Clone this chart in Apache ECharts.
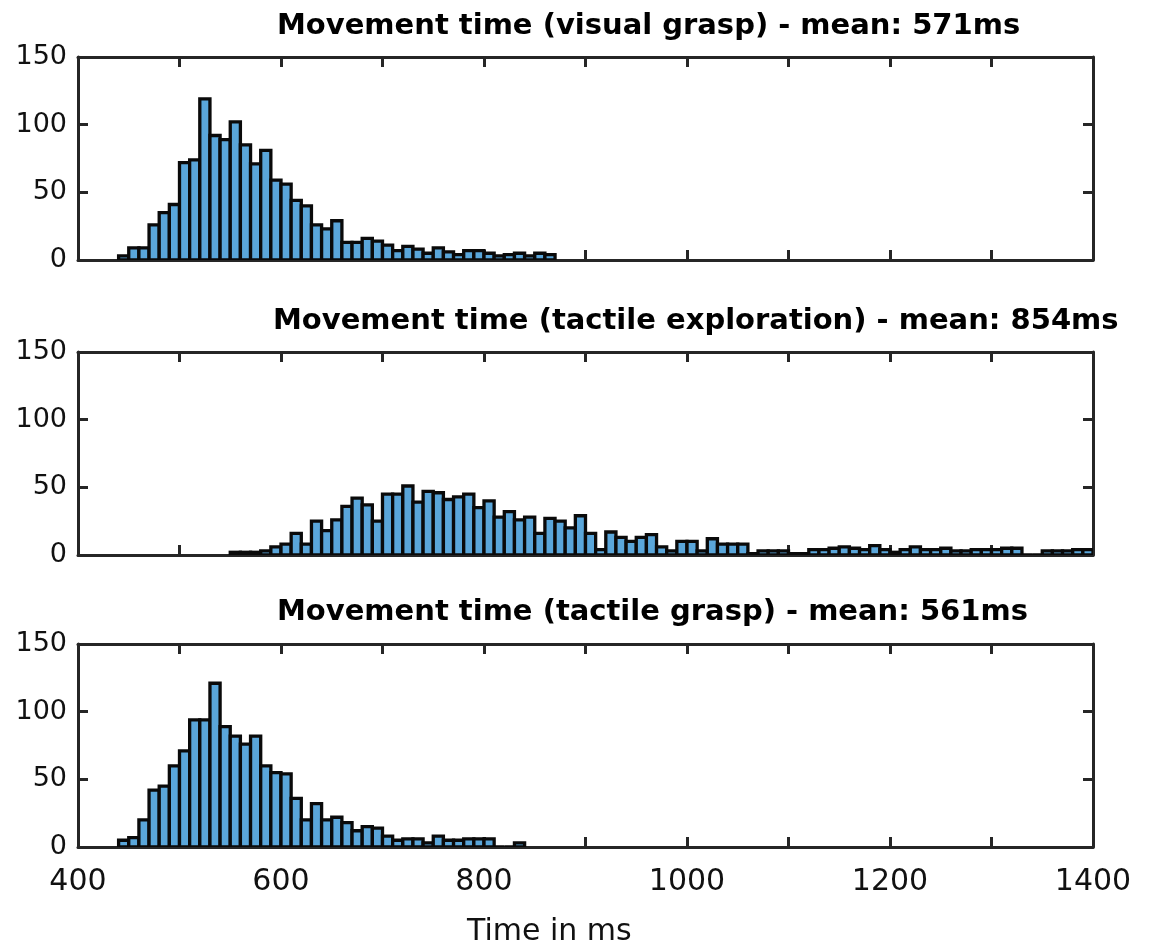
<!DOCTYPE html>
<html>
<head>
<meta charset="utf-8">
<script src="https://cdn.jsdelivr.net/npm/echarts@6/dist/echarts.min.js"></script>
<style>
  html, body { margin: 0; padding: 0; background: #ffffff; }
  #chart { width: 1149px; height: 948px; }
</style>
</head>
<body>
<div id="chart"></div>
<script>
// ---------------- DATA ----------------
const titles = [
  'Movement time (visual grasp) - mean: 571ms',
  'Movement time (tactile exploration) - mean: 854ms',
  'Movement time (tactile grasp) - mean: 561ms'
];
const xAxisTitle = 'Time in ms';
const xTickValues = [400, 500, 600, 700, 800, 900, 1000, 1100, 1200, 1300, 1400];
const xTickLabels = ['400', '', '600', '', '800', '', '1000', '', '1200', '', '1400'];
const yTickLabels = ['0', '50', '100', '150'];
const binWidth = 10;

// Panel 1: visual grasp
const visualBins = [440, 450, 460, 470, 480, 490, 500, 510, 520, 530, 540, 550, 560, 570, 580, 590,
  600, 610, 620, 630, 640, 650, 660, 670, 680, 690, 700, 710, 720, 730, 740, 750, 760, 770, 780, 790,
  800, 810, 820, 830, 840, 850, 860];
const visualCounts = [3, 9, 9, 26, 35, 41, 72, 74, 119, 92, 89, 102, 85, 71, 81, 59,
  56, 44, 40, 26, 23, 29, 13, 13, 16, 14, 11, 7, 10, 8, 5, 9, 6, 4, 7, 7,
  5, 3, 4, 5, 3, 5, 4];

// Panel 2: tactile exploration
const exploreBins = [550, 560, 570, 580, 590, 600, 610, 620, 630, 640, 650, 660, 670, 680, 690,
  700, 710, 720, 730, 740, 750, 760, 770, 780, 790, 800, 810, 820, 830, 840, 850, 860, 870, 880, 890,
  900, 910, 920, 930, 940, 950, 960, 970, 980, 990, 1000, 1010, 1020, 1030, 1040, 1050, 1060, 1070,
  1080, 1090, 1100, 1110, 1120, 1130, 1140, 1150, 1160, 1170, 1180, 1190, 1200, 1210, 1220, 1230,
  1240, 1250, 1260, 1270, 1280, 1290, 1300, 1310, 1320, 1330, 1340, 1350, 1360, 1370, 1380, 1390];
const exploreCounts = [2, 2, 2, 3, 6, 8, 16, 8, 25, 18, 26, 36, 42, 37, 25,
  45, 45, 51, 39, 47, 46, 41, 43, 45, 35, 40, 28, 32, 26, 28, 16, 27, 25, 20, 29,
  16, 4, 17, 13, 10, 13, 15, 6, 3, 10, 10, 3, 12, 8, 8, 8, 1, 3,
  3, 3, 1, 1, 4, 4, 5, 6, 5, 4, 7, 4, 2, 4, 6, 4,
  4, 5, 3, 3, 4, 4, 4, 5, 5, 0, 0, 3, 3, 3, 4, 4];

// Panel 3: tactile grasp
const tactileBins = [440, 450, 460, 470, 480, 490, 500, 510, 520, 530, 540, 550, 560, 570, 580, 590,
  600, 610, 620, 630, 640, 650, 660, 670, 680, 690, 700, 710, 720, 730, 740, 750, 760, 770, 780, 790,
  800, 810, 820, 830];
const tactileCounts = [5, 7, 20, 42, 45, 60, 71, 94, 94, 121, 89, 82, 76, 82, 60, 55,
  54, 36, 20, 32, 20, 22, 18, 12, 15, 14, 8, 5, 6, 6, 3, 8, 5, 5, 6, 6,
  6, 0, 0, 3];

// ---------------- CHART ----------------
const panels = [
  { bins: visualBins, counts: visualCounts },
  { bins: exploreBins, counts: exploreCounts },
  { bins: tactileBins, counts: tactileCounts }
];

const gridTops = [57, 352, 644];
const gridHeight = 203;
const gridLeft = 78;
const gridRight = 56;
const titleLefts = [272, 268, 272];
const titleTops = [7, 302, 593];

const axisColor = '#262626';
const labelFont = 'DejaVu Sans';
const barFill = '#5AA6DA';

const grids = [], xAxes = [], yAxes = [], series = [], titleOpts = [];

panels.forEach((p, i) => {
  grids.push({ left: gridLeft, right: gridRight, top: gridTops[i], height: gridHeight, containLabel: false });
  titleOpts.push({
    text: titles[i], left: titleLefts[i], top: titleTops[i],
    textStyle: { fontFamily: labelFont, fontWeight: 'bold', fontSize: 29, color: '#000' }
  });
  const isLast = i === panels.length - 1;
  // bottom x axis
  xAxes.push({
    type: 'value', gridIndex: i, min: 400, max: 1400, interval: 100, position: 'bottom',
    axisLine: { show: true, onZero: false, lineStyle: { color: axisColor, width: 3 } },
    axisTick: { show: true, inside: true, length: 10, lineStyle: { color: axisColor, width: 3 } },
    axisLabel: {
      show: isLast, margin: 20, fontFamily: labelFont, fontSize: 30, color: '#111',
      formatter: v => { const k = xTickValues.indexOf(v); return k >= 0 ? xTickLabels[k] : ''; }
    },
    splitLine: { show: false }
  });
  // top x axis (box)
  xAxes.push({
    type: 'value', gridIndex: i, min: 400, max: 1400, interval: 100, position: 'top',
    axisLine: { show: true, onZero: false, lineStyle: { color: axisColor, width: 3 } },
    axisTick: { show: true, inside: true, length: 10, lineStyle: { color: axisColor, width: 3 } },
    axisLabel: { show: false }, splitLine: { show: false }
  });
  // left y axis
  yAxes.push({
    type: 'value', gridIndex: i, min: 0, max: 150, interval: 50, position: 'left',
    axisLine: { show: true, onZero: false, lineStyle: { color: axisColor, width: 3 } },
    axisTick: { show: true, inside: true, length: 10, lineStyle: { color: axisColor, width: 3 } },
    axisLabel: {
      show: true, margin: 11, fontFamily: labelFont, fontSize: 27, color: '#111',
      formatter: v => yTickLabels[Math.round(v / 50)]
    },
    splitLine: { show: false }
  });
  // right y axis (box)
  yAxes.push({
    type: 'value', gridIndex: i, min: 0, max: 150, interval: 50, position: 'right',
    axisLine: { show: true, onZero: false, lineStyle: { color: axisColor, width: 3 } },
    axisTick: { show: true, inside: true, length: 10, lineStyle: { color: axisColor, width: 3 } },
    axisLabel: { show: false }, splitLine: { show: false }
  });

  const data = p.bins.map((b, k) => [b, b + binWidth, p.counts[k]]);
  series.push({
    type: 'custom', xAxisIndex: i * 2, yAxisIndex: i * 2, clip: true,
    encode: { x: [0, 1], y: 2 },
    data: data,
    renderItem: (params, api) => {
      const x0 = api.value(0), x1 = api.value(1), v = api.value(2);
      const pTop = api.coord([x0, v]);
      const pBot = api.coord([x1, 0]);
      return {
        type: 'rect',
        shape: { x: pTop[0], y: pTop[1], width: pBot[0] - pTop[0], height: pBot[1] - pTop[1] },
        style: { fill: barFill, stroke: '#0a0a0a', lineWidth: 3.3 }
      };
    },
    z: 1
  });
});

// x axis title
titleOpts.push({
  text: xAxisTitle, left: 462, top: 912,
  textStyle: { fontFamily: labelFont, fontWeight: 'normal', fontSize: 30, color: '#111' }
});

const chart = echarts.init(document.getElementById('chart'), null, { renderer: 'canvas' });
chart.setOption({
  backgroundColor: '#ffffff',
  animation: false,
  title: titleOpts,
  grid: grids,
  xAxis: xAxes,
  yAxis: yAxes,
  series: series
});
</script>
</body>
</html>
